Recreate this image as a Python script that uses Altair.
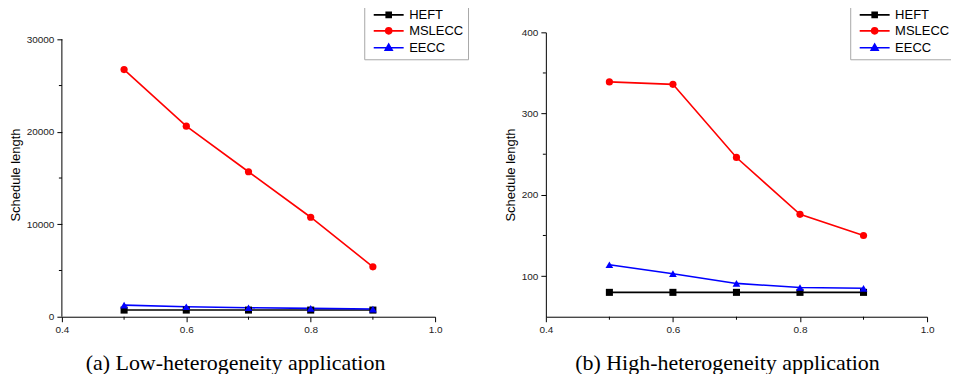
import altair as alt
import pandas as pd

# ---------------- data ----------------
x_vals = [0.5, 0.6, 0.7, 0.8, 0.9]
series = ["HEFT", "MSLECC", "EECC"]
colors = ["#000000", "#ff0000", "#0000ff"]
shapes = ["square", "circle", "triangle-up"]
marker_sizes = [50, 52, 60]
legend_shapes = [
    "M-3,0H3M-0.5,-0.5H0.5V0.5H-0.5Z",
    "M-3,0H3M0.6,0A0.6,0.6,0,1,1,-0.6,0A0.6,0.6,0,1,1,0.6,0Z",
    "M-3,0H3M0,-0.75L0.7,0.5L-0.7,0.5Z",
]

low_heft = [720, 720, 720, 720, 720]
low_mslecc = [26730, 20610, 15680, 10760, 5400]
low_eecc = [1260, 1080, 970, 900, 830]

high_heft = [80, 80, 80, 80, 80]
high_mslecc = [339, 336, 246, 176, 150]
high_eecc = [114, 103, 91, 86, 85]

x_ticks = [0.4, 0.6, 0.8, 1.0]
x_minor = [0.5, 0.7, 0.9]
low_yticks = [0, 10000, 20000, 30000]
low_minor = [5000, 15000, 25000]
high_yticks = [100, 200, 300, 400]
high_minor = [150, 250, 350]

captions = ["(a) Low-heterogeneity application", "(b) High-heterogeneity application"]


def make_df(h, m, e):
    rows = []
    for name, vals in zip(series, [h, m, e]):
        for xv, yv in zip(x_vals, vals):
            rows.append({"x": xv, "y": yv, "s": name})
    return pd.DataFrame(rows)


def panel(df, ydom, yticks, yminor, axis_top, draw_domain, w, h, lx, ly, caption, cap_dx):
    xscale = alt.Scale(domain=[0.4, 1.0], nice=False, zero=False)
    yscale = alt.Scale(domain=ydom, nice=False, zero=False)
    xaxis = alt.Axis(values=x_ticks, format=".1f", title=None, domain=True,
                     labelFlush=False, labelOverlap=False)
    yaxis = alt.Axis(values=yticks, format="d", title="Schedule length",
                     domain=draw_domain, titlePadding=4, labelFlush=False, labelOverlap=False)
    X = lambda f: alt.X(f, scale=xscale, axis=xaxis, title=None)
    Y = lambda f: alt.Y(f, scale=yscale, axis=yaxis, title="Schedule length")
    cscale = alt.Scale(domain=series, range=colors)

    base = alt.Chart(df)
    layers = []
    for name, col in zip(series, colors):
        sub = base.transform_filter(alt.datum.s == name)
        layers.append(sub.mark_line(strokeWidth=1.6, color=col).encode(x=X("x:Q"), y=Y("y:Q")))
    for name, col, shp, sz in zip(series, colors, shapes, marker_sizes):
        sub = base.transform_filter(alt.datum.s == name)
        layers.append(
            sub.mark_point(filled=True, opacity=1, size=sz, shape=shp, color=col)
            .encode(x=X("x:Q"), y=Y("y:Q"))
        )

    leg = alt.Legend(
        title=None, orient="none", legendX=lx, legendY=ly,
        symbolSize=100, symbolStrokeWidth=1.6, symbolOffset=14, labelOffset=14,
        labelFont="Liberation Sans", labelFontSize=13, labelColor="black",
        strokeColor="#a8a8a8", fillColor="white", padding=4, rowPadding=2,
    )
    # legend-only layer: its points sit far outside the clipped plot area
    layers.append(
        base.transform_calculate(off="-1e9").mark_point(
            filled=True, opacity=1, size=100, clip=True
        ).encode(
            x=X("x:Q"), y=Y("off:Q"),
            fill=alt.Fill("s:N", scale=cscale, legend=leg),
            stroke=alt.Stroke("s:N", scale=cscale, legend=leg),
            shape=alt.Shape("s:N", scale=alt.Scale(domain=series, range=legend_shapes), legend=leg),
        )
    )

    layers.append(
        alt.Chart(pd.DataFrame({"x": x_minor, "y": [ydom[0]] * len(x_minor)})).mark_rule(
            color="black", strokeWidth=1, y2Offset=3
        ).encode(x=X("x:Q"), y=Y("y:Q"), y2="y:Q")
    )
    layers.append(
        alt.Chart(pd.DataFrame({"y": yminor, "x": [0.4] * len(yminor)})).mark_rule(
            color="black", strokeWidth=1, x2Offset=-3
        ).encode(x=X("x:Q"), x2="x:Q", y=Y("y:Q"))
    )
    if not draw_domain:
        layers.append(
            alt.Chart(pd.DataFrame({"x": [0.4], "y": [ydom[0]], "y2": [axis_top]})).mark_rule(
                color="black", strokeWidth=1
            ).encode(x=X("x:Q"), y=Y("y:Q"), y2="y2:Q")
        )

    return alt.layer(*layers).properties(
        width=w, height=h,
        title=alt.TitleParams(
            caption, orient="bottom", anchor="middle", frame="group",
            font="Liberation Serif", fontSize=22, fontWeight="normal",
            color="black", offset=18, dx=cap_dx,
        ),
    )


left = panel(make_df(low_heft, low_mslecc, low_eecc), [0, 30755], low_yticks, low_minor,
             30000, False, 374, 285, 303, -28, captions[0], -13)
right = panel(make_df(high_heft, high_mslecc, high_eecc), [50, 400], high_yticks, high_minor,
              400, True, 382, 285, 305, -28, captions[1], -9)

chart = alt.hconcat(left, right, spacing=111, bounds="flush").resolve_scale(
    fill="independent", stroke="independent", shape="independent"
).resolve_legend(fill="independent", stroke="independent", shape="independent").properties(
    padding={"left": 1, "top": -5, "right": -4, "bottom": 0}
).configure(font="Liberation Sans").configure_view(stroke=None).configure_axis(
    domainColor="black", domainWidth=1, tickColor="black", tickSize=5, tickWidth=1,
    labelFont="Liberation Sans", labelFontSize=10, labelColor="#222222", labelPadding=3,
    titleFont="Liberation Sans", titleFontSize=13, titleFontWeight="normal", titleColor="black",
    grid=False,
)

chart.save("out.html", embed_options={"renderer": "svg", "actions": False})
